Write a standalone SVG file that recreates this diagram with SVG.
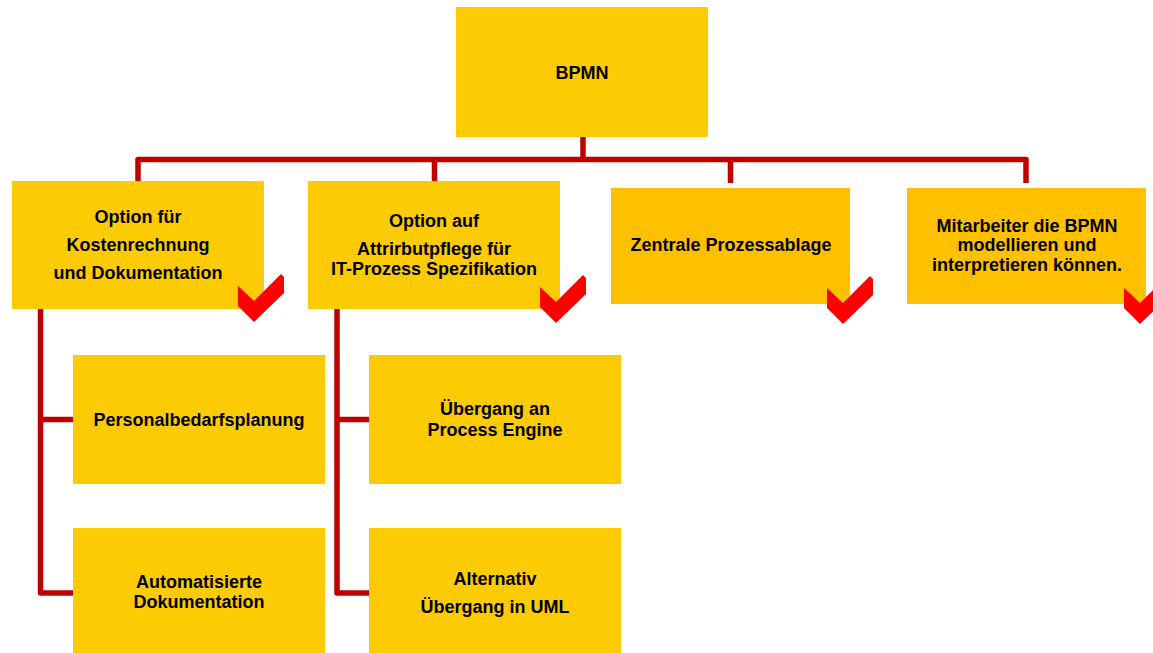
<svg xmlns="http://www.w3.org/2000/svg" width="1153" height="653" viewBox="0 0 1153 653">
<style>
.box{fill:#FDCB04}
.box2{fill:#FFC000}
.lbl{font-family:"Liberation Sans",Arial,sans-serif;font-weight:bold;font-size:18px;fill:#000;text-anchor:middle}
.con{fill:none;stroke:#C00000;stroke-width:5.5;stroke-linejoin:round}
.chk{fill:#FF0000}
</style>
<defs>
<polygon id="check" class="chk" points="0,0 16,15 43,-12 46,-9 46,7 16,36 0,20"/>
</defs>
<rect width="1153" height="653" fill="#FFFFFF"/>
<g id="connectors">
<path class="con" d="M583,137 V159.5"/>
<path class="con" d="M138,181 V159.5 H1026 V183"/>
<path class="con" d="M434.5,159.5 V181"/>
<path class="con" d="M730.5,159.5 V183"/>
<path class="con" d="M40.5,309 V593 H73"/>
<path class="con" d="M40.5,419.5 H73"/>
<path class="con" d="M337,309 V593 H369"/>
<path class="con" d="M337,419.5 H369"/>
</g>
<g id="bpmn">
<rect class="box" x="456" y="7" width="252" height="130"/>
<text class="lbl" x="582" y="79">BPMN</text>
</g>
<g id="option-kosten">
<rect class="box" x="12" y="181" width="252" height="128"/>
<text class="lbl" x="138" y="223">Option für</text>
<text class="lbl" x="138" y="251">Kostenrechnung</text>
<text class="lbl" x="138" y="279">und Dokumentation</text>
<use href="#check" x="238" y="286"/>
</g>
<g id="option-attribut">
<rect class="box" x="308" y="181" width="252" height="128"/>
<text class="lbl" x="434" y="227">Option auf</text>
<text class="lbl" x="434" y="255">Attrirbutpflege für</text>
<text class="lbl" x="434" y="275">IT-Prozess Spezifikation</text>
<use href="#check" x="540" y="287"/>
</g>
<g id="zentrale">
<rect class="box2" x="611" y="188" width="239" height="116"/>
<text class="lbl" x="731" y="251">Zentrale Prozessablage</text>
<use href="#check" x="827" y="288"/>
</g>
<g id="mitarbeiter">
<rect class="box2" x="907" y="188" width="239" height="116"/>
<text class="lbl" x="1027" y="232">Mitarbeiter die BPMN</text>
<text class="lbl" x="1027" y="251">modellieren und</text>
<text class="lbl" x="1027" y="271">interpretieren können.</text>
<use href="#check" x="1124" y="288"/>
</g>
<g id="personal">
<rect class="box" x="73" y="355" width="252" height="129"/>
<text class="lbl" x="199" y="426">Personalbedarfsplanung</text>
</g>
<g id="automatisiert">
<rect class="box" x="73" y="528" width="252" height="125"/>
<text class="lbl" x="199" y="588">Automatisierte</text>
<text class="lbl" x="199" y="608">Dokumentation</text>
</g>
<g id="process-engine">
<rect class="box" x="369" y="355" width="252" height="129"/>
<text class="lbl" x="495" y="415">Übergang an</text>
<text class="lbl" x="495" y="436">Process Engine</text>
</g>
<g id="uml">
<rect class="box" x="369" y="528" width="252" height="125"/>
<text class="lbl" x="495" y="585">Alternativ</text>
<text class="lbl" x="495" y="613">Übergang in UML</text>
</g>
</svg>
